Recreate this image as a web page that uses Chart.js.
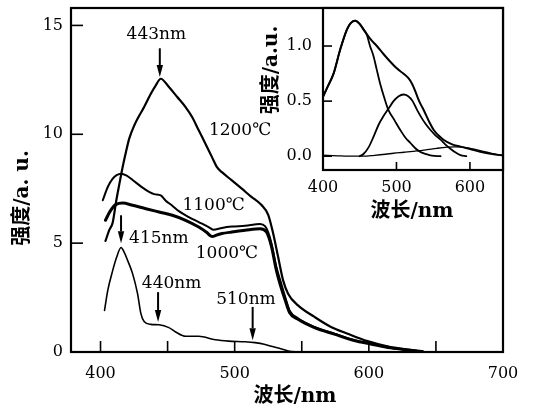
<!DOCTYPE html>
<html><head><meta charset="utf-8">
<script src="https://cdn.jsdelivr.net/npm/chart.js@4"></script>
<style>
html,body{margin:0;padding:0;background:#fff;}
#wrap{position:relative;width:536px;height:411px;background:#fff;}
#main{position:absolute;left:0;top:0;}
#inset{position:absolute;left:250px;top:0;}
</style></head><body>
<div id="wrap">
<canvas id="main" width="536" height="411" style="width:536px;height:411px"></canvas>
<canvas id="inset" width="286" height="240" style="width:286px;height:240px"></canvas>
</div>
<script>
// ---------- main chart data ----------
const nm1200 = [403.7,406.5,409.1,411.6,414,416.5,419,421.4,425.1,428.8,432.5,437.5,441.2,444.9,451,457.2,463.4,468.3,473.2,478.2,483.1,486.8,490.5,497.9,505.3,512,520,525,528.7,532.4,536.1,539.8,547.2,559.5,571.8,584.2,599,613.8,628.6,640];
const int1200 = [5.1,5.6,5.95,6.9,7.7,8.5,9.2,9.8,10.4,10.85,11.25,11.86,12.25,12.55,12.17,11.71,11.25,10.79,10.18,9.57,8.95,8.49,8.26,7.88,7.5,7.15,6.75,6.3,5.44,4.36,3.29,2.68,2.14,1.61,1.15,0.84,0.5,0.26,0.11,0.02];

const nm1100 = [401.7,405.4,409.1,412,415.3,419.5,423.9,431.3,436.2,440,444.9,448.6,453.5,458.4,465.8,473.2,480.6,484,490.5,497.9,507.8,518.9,522.6,525,527.4,531.1,534.9,537.3,541,547.2,559.5,574.3,589.1,601.4,616.2,631,640];
const int1100 = [6.97,7.58,7.96,8.12,8.19,8.1,7.9,7.55,7.35,7.25,7.19,6.95,6.72,6.47,6.2,5.97,5.74,5.62,5.7,5.76,5.8,5.88,5.78,5.5,5.0,3.9,3.1,2.6,1.9,1.55,1.15,0.84,0.54,0.38,0.2,0.08,0.02];

const nm1000 = [403.7,407,411.6,416.5,423.9,433.8,443.6,453.5,463.4,473.2,479,483.1,487,490.5,497.9,507.8,518.9,523.7,527.4,531.1,534.9,537.3,541,547.2,559.5,574.3,589.1,601.4,616.2,631,640];
const int1000 = [6.05,6.45,6.78,6.84,6.74,6.58,6.43,6.28,6.05,5.74,5.5,5.3,5.38,5.44,5.51,5.59,5.66,5.51,4.85,3.75,2.9,2.45,1.8,1.5,1.12,0.82,0.53,0.37,0.19,0.08,0.02];

const nm900 = [403,405.4,409.1,412,415.3,417.5,420.2,423.9,427.6,430.1,432.5,437.5,443.6,451,456,463.4,473.2,485.6,495.4,507.8,515.2,522,527.4,534.9,540,548];
const int900 = [1.91,2.83,3.75,4.35,4.8,4.6,4.21,3.6,2.68,1.76,1.4,1.27,1.25,1.12,0.92,0.72,0.72,0.56,0.5,0.47,0.43,0.36,0.26,0.14,0.04,0];

const xTicksMain = [400,450,500,550,600,650,700];
const xLabelsMain = [400,500,600,700];
const yTicksMain = [0,5,10,15];

// annotations (data units)
const arrowsMain = [
  {x:444.2, from:13.95, to:12.63},
  {x:415.3, from:6.28, to:4.99},
  {x:442.9, from:2.75, to:1.38},
  {x:513.4, from:2.07, to:0.54}
];
const textsMain = [
  {t:'443nm', x:441.6, y:14.6},
  {t:'1200℃', x:504, y:10.18},
  {t:'1100℃', x:484.3, y:6.74},
  {t:'1000℃', x:494.2, y:4.52},
  {t:'415nm', x:443.5, y:5.2},
  {t:'440nm', x:453, y:3.14},
  {t:'510nm', x:508.4, y:2.4}
];

// ---------- inset data ----------
const nmEnv = [400,407,414.4,423.5,432.6,438,443.8,450,457.4,465,473.3,482,491.3,500,509.4,516,521,525,529,533,537,544,550.5,557,564,575,587,600,614,628,641,645];
const intEnv = [0.54,0.64,0.75,0.97,1.15,1.21,1.23,1.2,1.13,1.06,1.0,0.93,0.86,0.8,0.75,0.71,0.66,0.6,0.53,0.47,0.42,0.32,0.24,0.19,0.15,0.11,0.087,0.065,0.04,0.022,0.01,0.008];
const nmC1 = [400,407,414.4,423.5,432.6,438,443.8,450,455,459.7,464,468.7,473,477.7,483,489,497,505,512,519,526,532,540,548,560];
const intC1 = [0.54,0.64,0.75,0.97,1.15,1.21,1.23,1.2,1.15,1.1,1.0,0.91,0.79,0.66,0.54,0.42,0.33,0.24,0.17,0.12,0.07,0.04,0.02,0.005,0];
const nmC2 = [449.8,455,462,469,476,482,489,496,503,509.5,516,522,528,534,540,546,553,560,566,573,580,587,595];
const intC2 = [0,0.02,0.08,0.18,0.29,0.36,0.43,0.5,0.545,0.56,0.545,0.5,0.42,0.35,0.29,0.24,0.19,0.15,0.11,0.07,0.035,0.01,0];
const nmC3 = [400,420,440,455,470,485,496,510,528,542,555,569,580,590,602,614,628,641,645];
const intC3 = [0.01,0.004,0,0,0.008,0.018,0.027,0.036,0.048,0.06,0.072,0.082,0.085,0.082,0.068,0.05,0.028,0.01,0.008];

const xTicksInset = [400,500,600];
const yTicksInset = [0,0.5,1.0];

// ---------- helpers ----------
const SERIF = '"DejaVu Serif", "Noto Sans CJK SC", serif';
Chart.defaults.font.family = SERIF;
Chart.defaults.color = '#000';

function pts(xs, ys){ return xs.map((v,i)=>({x:v, y:ys[i]})); }
function line(data, w){
  return {data, borderColor:'#000', borderWidth:w, pointRadius:0, fill:false,
          cubicInterpolationMode:'monotone', borderJoinStyle:'round', borderCapStyle:'round'};
}
function arrow(ctx, x, ya, yb){
  const dir = Math.sign(yb-ya), hl = 12, hw = 3.2;
  ctx.lineWidth = 2;
  ctx.beginPath(); ctx.moveTo(x, ya); ctx.lineTo(x, yb - dir*hl); ctx.stroke();
  ctx.beginPath(); ctx.moveTo(x-hw, yb-dir*hl); ctx.lineTo(x+hw, yb-dir*hl); ctx.lineTo(x, yb); ctx.closePath(); ctx.fill();
}
function rotText(ctx, t, cx, cy){
  ctx.save(); ctx.translate(cx, cy); ctx.rotate(-Math.PI/2);
  ctx.textAlign='center'; ctx.textBaseline='middle'; ctx.fillText(t, 0, 0); ctx.restore();
}
function noPad(s){ s.paddingTop = 0; s.paddingBottom = 0; s.paddingLeft = 0; s.paddingRight = 0; }

const mainDecor = {
  id:'mainDecor',
  afterDatasetsDraw(chart){
    const {ctx, chartArea:a, scales:{x, y}} = chart;
    ctx.save();
    ctx.strokeStyle='#000'; ctx.fillStyle='#000';
    ctx.lineWidth = 2.2;
    ctx.strokeRect(a.left, a.top, a.right-a.left, a.bottom-a.top);
    ctx.lineWidth = 1.6;
    xTicksMain.filter(v=>v>x.min && v<x.max).forEach(v=>{
      const px = x.getPixelForValue(v);
      ctx.beginPath(); ctx.moveTo(px, a.bottom); ctx.lineTo(px, a.bottom-11); ctx.stroke();
    });
    yTicksMain.filter(v=>v>y.min && v<y.max).forEach(v=>{
      const py = y.getPixelForValue(v);
      ctx.beginPath(); ctx.moveTo(a.left, py); ctx.lineTo(a.left+12, py); ctx.stroke();
    });
    arrowsMain.forEach(o=> arrow(ctx, x.getPixelForValue(o.x), y.getPixelForValue(o.from), y.getPixelForValue(o.to)));
    ctx.font = '17px ' + SERIF;
    ctx.textAlign='center'; ctx.textBaseline='middle';
    textsMain.forEach(o=> ctx.fillText(o.t, x.getPixelForValue(o.x), y.getPixelForValue(o.y)));
    ctx.font = 'bold 20px ' + SERIF;
    ctx.fillText('波长/nm', 295, 397);
    rotText(ctx, '强度/a. u.', 23, 198);
    ctx.restore();
  }
};

new Chart(document.getElementById('main'), {
  type:'line',
  data:{datasets:[
    line(pts(nm1200, int1200), 2.2),
    line(pts(nm1100, int1100), 2.0),
    line(pts(nm1000, int1000), 3.0),
    line(pts(nm900, int900), 1.6)
  ]},
  options:{
    responsive:false, animation:false, events:[],
    layout:{padding:{top:8, right:33, left:0, bottom:0}},
    plugins:{legend:{display:false}, tooltip:{enabled:false}},
    scales:{
      x:{type:'linear', min:378, max:700,
        afterBuildTicks:s=>{ s.ticks = xTicksMain.map(v=>({value:v})); },
        afterFit:s=>{ s.height = 59; noPad(s); },
        grid:{display:false, drawTicks:false}, border:{display:false},
        ticks:{font:{size:16}, padding:12, maxRotation:0, autoSkip:false,
               callback:v=> xLabelsMain.includes(v) ? String(v) : ''}
      },
      y:{type:'linear', min:0, max:15.8,
        afterBuildTicks:s=>{ s.ticks = yTicksMain.map(v=>({value:v})); },
        afterFit:s=>{ s.width = 71; noPad(s); },
        grid:{display:false, drawTicks:false}, border:{display:false},
        ticks:{font:{size:16}, padding:8, autoSkip:false, callback:v=>String(v)}
      }
    }
  },
  plugins:[mainDecor]
});

const insetDecor = {
  id:'insetDecor',
  beforeDatasetsDraw(chart){
    const {ctx, chartArea:a} = chart;
    ctx.save(); ctx.fillStyle='#fff'; ctx.fillRect(a.left, a.top, a.right-a.left, a.bottom-a.top); ctx.restore();
  },
  afterDatasetsDraw(chart){
    const {ctx, chartArea:a, scales:{x, y}} = chart;
    ctx.save();
    ctx.strokeStyle='#000'; ctx.fillStyle='#000';
    ctx.lineWidth = 2.2;
    ctx.strokeRect(a.left, a.top, a.right-a.left, a.bottom-a.top);
    ctx.lineWidth = 1.6;
    xTicksInset.filter(v=>v>x.min && v<x.max).forEach(v=>{
      const px = x.getPixelForValue(v);
      ctx.beginPath(); ctx.moveTo(px, a.bottom); ctx.lineTo(px, a.bottom-8); ctx.stroke();
    });
    yTicksInset.forEach(v=>{
      const py = y.getPixelForValue(v);
      ctx.beginPath(); ctx.moveTo(a.left, py); ctx.lineTo(a.left+9, py); ctx.stroke();
    });
    ctx.font = 'bold 20px ' + SERIF;
    ctx.textAlign='center'; ctx.textBaseline='middle';
    ctx.fillText('波长/nm', 162, 212);
    rotText(ctx, '强度/a.u.', 22, 70);
    ctx.restore();
  }
};

new Chart(document.getElementById('inset'), {
  type:'line',
  data:{datasets:[
    line(pts(nmEnv, intEnv), 2.0),
    line(pts(nmC1, intC1), 1.8),
    line(pts(nmC2, intC2), 1.8),
    line(pts(nmC3, intC3), 1.3)
  ]},
  options:{
    responsive:false, animation:false, events:[],
    layout:{padding:{top:8, right:33, left:0, bottom:0}},
    plugins:{legend:{display:false}, tooltip:{enabled:false}},
    scales:{
      x:{type:'linear', min:400, max:645,
        afterBuildTicks:s=>{ s.ticks = xTicksInset.map(v=>({value:v})); },
        afterFit:s=>{ s.height = 70; noPad(s); },
        grid:{display:false, drawTicks:false}, border:{display:false},
        ticks:{font:{size:16}, padding:8, maxRotation:0, autoSkip:false, callback:v=>String(v)}
      },
      y:{type:'linear', min:-0.125, max:1.345,
        afterBuildTicks:s=>{ s.ticks = yTicksInset.map(v=>({value:v})); },
        afterFit:s=>{ s.width = 73; noPad(s); },
        grid:{display:false, drawTicks:false}, border:{display:false},
        ticks:{font:{size:16}, padding:11, autoSkip:false, callback:v=>v.toFixed(1)}
      }
    }
  },
  plugins:[insetDecor]
});
</script>
</body></html>
